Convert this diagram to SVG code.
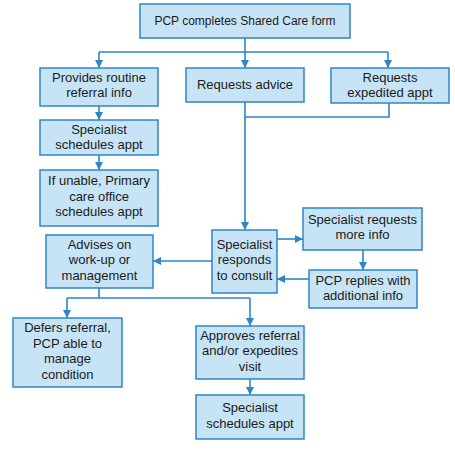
<svg xmlns="http://www.w3.org/2000/svg" width="455" height="450" viewBox="0 0 455 450">
  <style>
    .box { fill: #c6e4f5; stroke: #2e86c8; stroke-width: 1.5; }
    .lbl { font-family: "Liberation Sans", Arial, sans-serif; font-size: 13px; fill: #1a1a1a; text-anchor: middle; }
    .title { font-size: 12px; }
    .wire { fill: none; stroke: #2e86c8; stroke-width: 1.6; }
    .arr { marker-end: url(#head); }
  </style>
  <defs>
    <marker id="head" viewBox="0 0 10 10" refX="10" refY="5" markerUnits="userSpaceOnUse" markerWidth="8" markerHeight="8" orient="auto">
      <path d="M0,0 L10,5 L0,10 Z" fill="#2e86c8"/>
    </marker>
  </defs>

  <g id="connectors">
    <!-- top fan-out -->
    <path class="wire" d="M245,38 V52 M99,52 H388"/>
    <path class="wire arr" d="M99,52 V68"/>
    <path class="wire arr" d="M245,52 V68"/>
    <path class="wire arr" d="M388,52 V68"/>
    <!-- routine referral chain -->
    <path class="wire arr" d="M99,106 V120"/>
    <path class="wire arr" d="M99,155 V170"/>
    <!-- advice / expedited merge into consult -->
    <path class="wire" d="M245,102 V117 H389 V103"/>
    <path class="wire arr" d="M245,117 V230"/>
    <!-- more info loop -->
    <path class="wire arr" d="M277,239 H303"/>
    <path class="wire arr" d="M363,250 V270"/>
    <path class="wire arr" d="M309,279 H277"/>
    <!-- consult outcome -->
    <path class="wire arr" d="M212,261 H153"/>
    <path class="wire" d="M99,288 V298 M67,298 H250"/>
    <path class="wire arr" d="M67,298 V318"/>
    <path class="wire arr" d="M250,298 V326"/>
    <path class="wire arr" d="M250,379 V395"/>
  </g>

  <g id="pcp-form">
    <rect class="box" x="140" y="4" width="210" height="34"/>
    <text class="lbl title" x="245" y="25">PCP completes Shared Care form</text>
  </g>
  <g id="routine-referral">
    <rect class="box" x="40" y="68" width="118" height="38"/>
    <text class="lbl" x="99" y="82">Provides routine</text>
    <text class="lbl" x="99" y="97">referral info</text>
  </g>
  <g id="requests-advice">
    <rect class="box" x="186" y="68" width="118" height="34"/>
    <text class="lbl" x="245" y="88.5">Requests advice</text>
  </g>
  <g id="requests-expedited">
    <rect class="box" x="331" y="68" width="118" height="35"/>
    <text class="lbl" x="390" y="82">Requests</text>
    <text class="lbl" x="390" y="97">expedited appt</text>
  </g>
  <g id="specialist-schedules-1">
    <rect class="box" x="40" y="120" width="118" height="35"/>
    <text class="lbl" x="99" y="134">Specialist</text>
    <text class="lbl" x="99" y="149">schedules appt</text>
  </g>
  <g id="primary-care-schedules">
    <rect class="box" x="40" y="170" width="118" height="56"/>
    <text class="lbl" x="99" y="185">If unable, Primary</text>
    <text class="lbl" x="99" y="200.5">care office</text>
    <text class="lbl" x="99" y="216">schedules appt</text>
  </g>
  <g id="specialist-responds">
    <rect class="box" x="212" y="230" width="65" height="63"/>
    <text class="lbl" x="244.5" y="248.5">Specialist</text>
    <text class="lbl" x="244.5" y="264">responds</text>
    <text class="lbl" x="244.5" y="279.5">to consult</text>
  </g>
  <g id="specialist-requests-info">
    <rect class="box" x="303" y="208" width="119" height="42"/>
    <text class="lbl" x="362.5" y="224">Specialist requests</text>
    <text class="lbl" x="362.5" y="239">more info</text>
  </g>
  <g id="pcp-replies">
    <rect class="box" x="309" y="270" width="108" height="38"/>
    <text class="lbl" x="363" y="284.5">PCP replies with</text>
    <text class="lbl" x="363" y="299.5">additional info</text>
  </g>
  <g id="advises">
    <rect class="box" x="46" y="235" width="107" height="53"/>
    <text class="lbl" x="99.5" y="248.5">Advises on</text>
    <text class="lbl" x="99.5" y="264">work-up or</text>
    <text class="lbl" x="99.5" y="279.5">management</text>
  </g>
  <g id="defers-referral">
    <rect class="box" x="13" y="318" width="109" height="69"/>
    <text class="lbl" x="67.5" y="332">Defers referral,</text>
    <text class="lbl" x="67.5" y="347.5">PCP able to</text>
    <text class="lbl" x="67.5" y="363">manage</text>
    <text class="lbl" x="67.5" y="378.5">condition</text>
  </g>
  <g id="approves-referral">
    <rect class="box" x="196" y="326" width="108" height="53"/>
    <text class="lbl" x="250" y="339.5">Approves referral</text>
    <text class="lbl" x="250" y="355">and/or expedites</text>
    <text class="lbl" x="250" y="370.5">visit</text>
  </g>
  <g id="specialist-schedules-2">
    <rect class="box" x="196" y="395" width="108" height="44"/>
    <text class="lbl" x="250" y="412">Specialist</text>
    <text class="lbl" x="250" y="427.5">schedules appt</text>
  </g>
</svg>
